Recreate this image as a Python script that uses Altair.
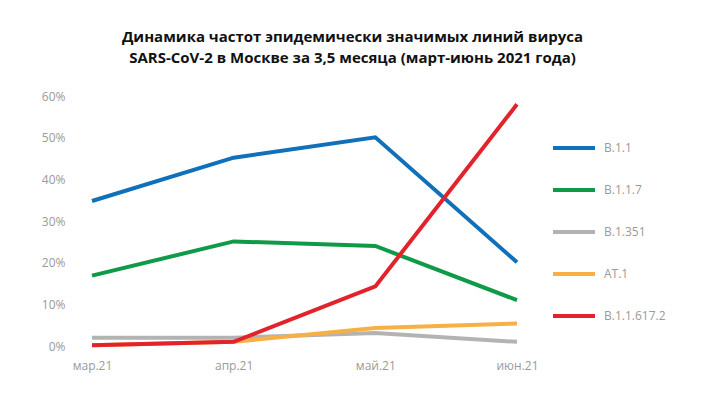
import altair as alt
import pandas as pd

months = ["мар.21", "апр.21", "май.21", "июн.21"]
series_names = ["B.1.1", "B.1.1.7", "B.1.351", "AT.1", "B.1.1.617.2"]
b_1_1 = [34.8, 45.2, 50.1, 20.1]
b_1_1_7 = [16.9, 25.1, 24.0, 11.0]
b_1_351 = [2.0, 2.0, 3.1, 1.0]
at_1 = [0.2, 1.0, 4.3, 5.4]
b_1_1_617_2 = [0.2, 1.0, 14.3, 58.0]
colors = ["#1170BA", "#0F9A48", "#B3B3B3", "#F7B045", "#E3232C"]

values = [b_1_1, b_1_1_7, b_1_351, at_1, b_1_1_617_2]
rows = []
for name, vals in zip(series_names, values):
    for m, v in zip(months, vals):
        rows.append({"month": m, "series": name, "value": v / 100})
df = pd.DataFrame(rows)

chart = alt.Chart(df).mark_line(strokeWidth=4, strokeCap="butt").encode(
    x=alt.X("month:N", sort=months, title=None,
            scale=alt.Scale(type="point", padding=0),
            axis=alt.Axis(domain=False, ticks=False, labelAngle=0, labelPadding=14,
                          labelColor="#9a9a9a", labelFontSize=12, labelFont="Open Sans")),
    y=alt.Y("value:Q", title=None,
            scale=alt.Scale(domain=[0, 0.6]),
            axis=alt.Axis(format=".0%", values=[0, 0.1, 0.2, 0.3, 0.4, 0.5, 0.6],
                          domain=False, ticks=False, grid=False, labelPadding=27,
                          labelColor="#9a9a9a", labelFontSize=12, labelFont="Open Sans")),
    color=alt.Color("series:N", sort=series_names,
                    scale=alt.Scale(domain=series_names, range=colors),
                    legend=alt.Legend(title=None, orient="none", legendX=459, legendY=29,
                                      symbolType="stroke", symbolSize=1764,
                                      symbolStrokeWidth=4, rowPadding=11,
                                      labelFontSize=12, labelColor="#9a9a9a",
                                      labelFont="Open Sans", labelOffset=7)),
).properties(
    width=425, height=250,
    padding={"left": 33, "top": 22, "right": 5, "bottom": 5},
    title=alt.TitleParams(
        ["Динамика частот эпидемически значимых линий вируса",
         "SARS-CoV-2 в Москве за 3,5 месяца (март-июнь 2021 года)"],
        font="Open Sans", fontSize=15, fontWeight="bold", color="#111111",
        anchor="middle", lineHeight=21, offset=24, dx=48),
).configure_view(stroke=None)

chart.save("out.html", embed_options={"renderer": "svg", "actions": False})
